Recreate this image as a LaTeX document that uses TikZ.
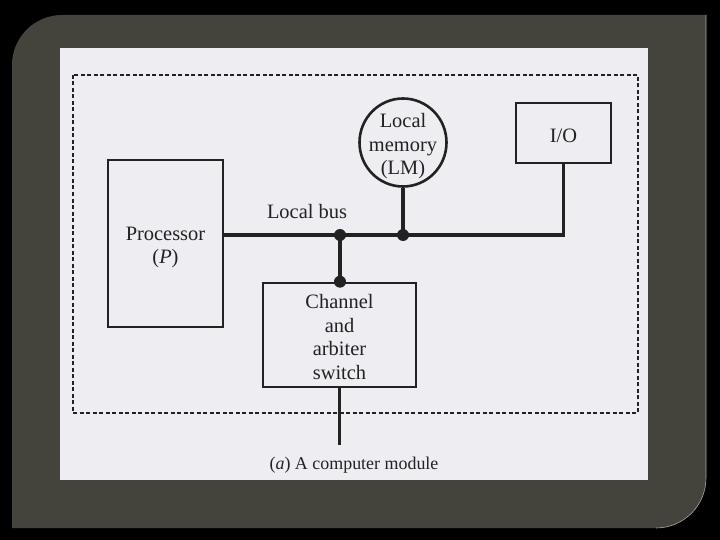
\documentclass[tikz,border=0pt]{standalone}
\usepackage{fontspec}
\setmainfont{Liberation Serif}
\usetikzlibrary{shapes.geometric}
\definecolor{framegray}{RGB}{68,68,60}
\definecolor{paper}{RGB}{237,237,242}
\definecolor{ink}{RGB}{34,34,34}
\begin{document}
\begin{tikzpicture}[x=1bp,y=-1bp,
  blk/.style={draw=ink,line width=2.6bp,text=ink,align=center,inner sep=0pt},
  busline/.style={draw=ink,line width=3.4bp},
  jdot/.style={circle,fill=ink,inner sep=0pt,minimum size=12bp},
  lbl/.style={text=ink,align=center,font=\fontsize{20.5}{23.5}\selectfont,inner sep=0pt},
  dashbox/.style={draw=ink,line width=2.2bp,dash pattern=on 4bp off 2.5bp}
]
% background
\path[fill=black,use as bounding box] (0,0) rectangle (720,540);
\fill[framegray] (12,528) -- (12,65) .. controls (12,37.4) and (34.4,15) .. (62,15)
  -- (706,15) -- (706,478) .. controls (706,505.6) and (683.6,528) .. (656,528) -- cycle;
\draw[gray!70,line width=0.6bp] (706,15) -- (706,478)
  .. controls (706,505.6) and (683.6,528) .. (656,528);
\fill[paper] (60,48) rectangle (648,480);
% dashed module boundary
\draw[dashbox] (73,75) rectangle (638,413);
% blocks
\node[blk,minimum width=115bp,minimum height=167bp,
  label={[lbl,yshift=-4bp]center:Processor\\(\textit{P})}] (proc) at (165.5,243.5) {};
\node[blk,ellipse,minimum width=87bp,minimum height=88bp,
  label={[lbl,yshift=-4bp]center:Local\\memory\\(LM)}] (lm) at (403,142.5) {};
\node[blk,minimum width=95bp,minimum height=60bp,
  label={[lbl,yshift=-3bp]center:I/O}] (io) at (563.5,133) {};
\node[blk,minimum width=153bp,minimum height=104bp,
  label={[lbl,yshift=-2bp]center:Channel\\and\\arbiter\\switch}] (chan) at (339.5,335) {};
\node[lbl] (buslbl) at (307,212) {Local bus};
% bus coordinates
\coordinate (j1) at (340,235);
\coordinate (j2) at (lm.south |- j1);
\coordinate (corner) at (io.south |- j1);
\coordinate (ext) at (chan.south |- 0,445);
% connectors
\draw[busline] (proc.east |- j1) -- (j1) -- (j2) -- (corner) -- (io.south);
\draw[busline] (lm.south) -- (j2);
\draw[busline] (j1) -- (chan.north -| j1);
\draw[busline] (chan.south) -- (ext);
\node[jdot] (d1) at (j1) {};
\node[jdot] (d2) at (j2) {};
\node[jdot] (d3) at (chan.north -| j1) {};
% caption
\node[lbl,font=\fontsize{18}{22}\selectfont] (cap) at (354,465)
  {(\textit{a}) A computer module};
\end{tikzpicture}
\end{document}
